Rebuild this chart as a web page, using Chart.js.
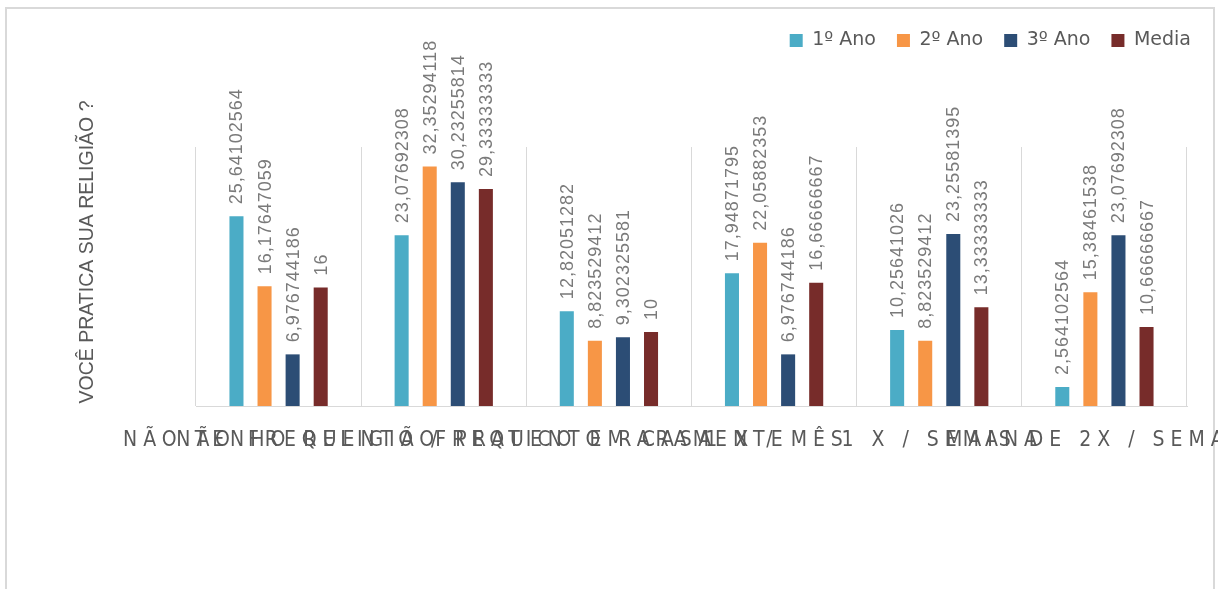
<!DOCTYPE html>
<html>
<head>
<meta charset="utf-8">
<script src="https://cdn.jsdelivr.net/npm/chart.js@4.4.1/dist/chart.umd.min.js"></script>
<style>
  html, body { margin: 0; padding: 0; background: #fff; }
  #wrap { position: relative; width: 1218px; height: 589px; overflow: hidden; }
  #frame { position: absolute; left: 5px; top: 7px; width: 1210px; height: 620px; border: 2px solid #d9d9d9; box-sizing: border-box; }
  #chart { position: absolute; left: 0; top: 0; }
</style>
</head>
<body>
<div id="wrap">
  <div id="frame"></div>
  <canvas id="chart" width="1218" height="589"></canvas>
</div>
<script>
// survey data - "Você pratica sua religião ?"
const categories = ['NÃO TENHO RELIGIÃO', 'NÃO FREQUENTO / PRATICO EM CASA', 'FREQUENTO RARAMENTE', '1 X / MÊS', '1 X / SEMANA', 'MAIS DE 2X / SEMANA'];
const seriesNames = ['1º Ano', '2º Ano', '3º Ano', 'Media'];
const ano1 = [25.64102564, 23.07692308, 12.82051282, 17.94871795, 10.25641026, 2.564102564];
const ano2 = [16.17647059, 32.35294118, 8.823529412, 22.05882353, 8.823529412, 15.38461538];
const ano3 = [6.976744186, 30.23255814, 9.302325581, 6.976744186, 23.25581395, 23.07692308];
const media = [16, 29.33333333, 10, 16.66666667, 13.33333333, 10.66666667];
const axisTitle = 'VOCÊ PRATICA SUA RELIGIÃO ?';
const yMax = 35;

const colors = ['#4bacc6', '#f79646', '#2c4d75', '#772c2a'];
const grey = '#595959';

// legend takes the whole band above the plot
const legendHeight = {
  id: 'legendHeight',
  beforeInit(chart) {
    const fit = chart.legend.fit;
    chart.legend.fit = function () {
      fit.call(this);
      this.height = 137;
    };
  }
};

// rotated value labels above each bar
const valueLabels = {
  id: 'valueLabels',
  afterDatasetsDraw(chart) {
    const ctx = chart.ctx;
    ctx.save();
    ctx.fillStyle = '#7a7a7a';
    ctx.font = '18px "Liberation Sans", Arial, sans-serif';
    ctx.letterSpacing = '1px';
    ctx.textAlign = 'left';
    ctx.textBaseline = 'middle';
    chart.data.datasets.forEach((ds, i) => {
      chart.getDatasetMeta(i).data.forEach((bar, j) => {
        ctx.save();
        ctx.translate(bar.x + 1, bar.y - 12);
        ctx.rotate(-Math.PI / 2);
        ctx.fillText(String(ds.data[j]).replace('.', ','), 0, 0);
        ctx.restore();
      });
    });
    ctx.restore();
  }
};

// wide-tracked category labels (they run into each other, like the original)
const categoryLabels = {
  id: 'categoryLabels',
  afterDraw(chart) {
    const x = chart.scales.x;
    const ctx = chart.ctx;
    ctx.save();
    ctx.fillStyle = grey;
    ctx.font = '21px "Liberation Sans Narrow", "DejaVu Sans Condensed", sans-serif';
    ctx.letterSpacing = '6px';
    ctx.textAlign = 'center';
    ctx.textBaseline = 'middle';
    categories.forEach((c, i) => ctx.fillText(c, x.getPixelForTick(i) + 3, 441));
    ctx.restore();
  }
};

const yTitle = {
  id: 'yTitle',
  afterDraw(chart) {
    const ctx = chart.ctx;
    ctx.save();
    ctx.fillStyle = grey;
    ctx.font = '19.5px "Liberation Sans", Arial, sans-serif';
    ctx.textAlign = 'center';
    ctx.textBaseline = 'middle';
    ctx.translate(88, 252);
    ctx.rotate(-Math.PI / 2);
    ctx.fillText(axisTitle, 0, 0);
    ctx.restore();
  }
};

new Chart(document.getElementById('chart'), {
  type: 'bar',
  data: {
    labels: categories,
    datasets: [ano1, ano2, ano3, media].map((d, i) => ({
      label: seriesNames[i],
      data: d,
      backgroundColor: colors[i],
      borderWidth: 0,
      categoryPercentage: 0.68,
      barPercentage: 0.5
    }))
  },
  options: {
    responsive: false,
    animation: false,
    devicePixelRatio: 1,
    layout: { padding: { left: 0, right: 6, top: 10, bottom: 183 } },
    plugins: {
      legend: {
        position: 'top',
        align: 'end',
        labels: {
          boxWidth: 13,
          boxHeight: 13,
          padding: 21,
          color: grey,
          font: { size: 19, family: '"DejaVu Sans", sans-serif' }
        }
      },
      tooltip: { enabled: false }
    },
    scales: {
      x: {
        offset: true,
        grid: { color: '#d9d9d9', drawTicks: false, offset: true },
        border: { color: '#d9d9d9' },
        ticks: { display: false }
      },
      y: {
        position: 'left',
        min: 0,
        max: yMax,
        ticks: { display: false },
        grid: { display: false },
        border: { display: false },
        afterFit: s => { s.width = 196; }
      },
      pad: {
        type: 'linear',
        position: 'right',
        ticks: { display: false },
        grid: { display: false },
        border: { display: false },
        afterFit: s => { s.width = 25; }
      }
    }
  },
  plugins: [legendHeight, valueLabels, categoryLabels, yTitle]
});
</script>
</body>
</html>
